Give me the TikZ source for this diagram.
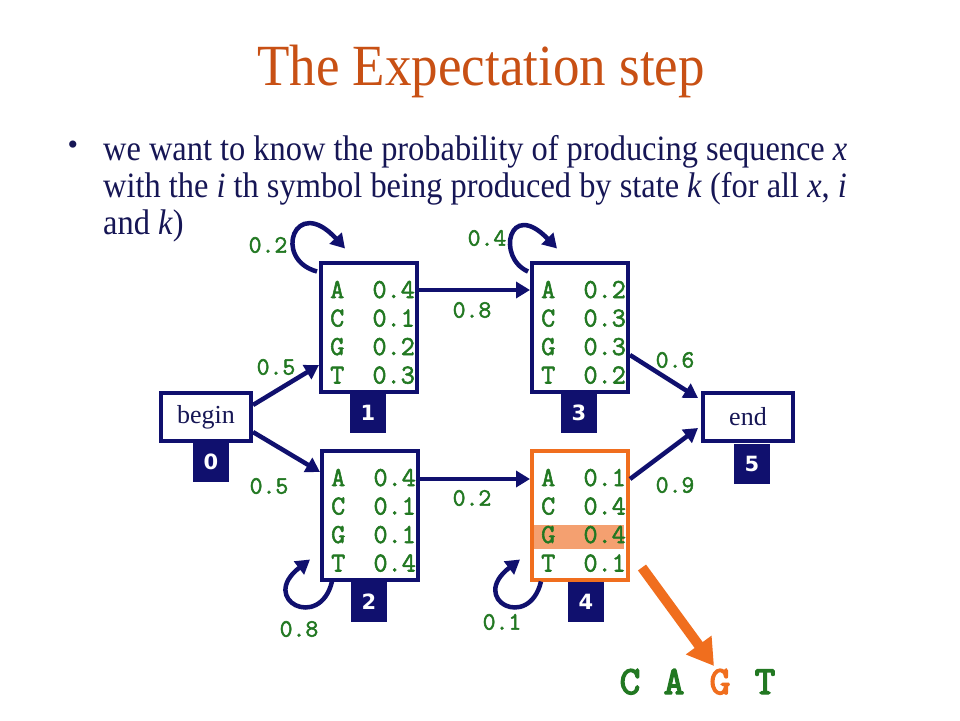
\documentclass[tikz,border=0pt]{standalone}
\usepackage{fontspec}
\usepackage{graphicx}
\setmainfont{Liberation Serif}
\newfontfamily\labf{DejaVu Sans}
\newfontfamily\courf{Latin Modern Mono}[FakeBold=2]
\newfontfamily\courbig{Latin Modern Mono}[FakeBold=3.5]
\usetikzlibrary{arrows.meta,calc}
\definecolor{navy}{RGB}{16,16,110}
\definecolor{txtnavy}{RGB}{22,22,85}
\definecolor{emgreen}{RGB}{34,120,34}
\definecolor{orng}{RGB}{240,110,30}
\definecolor{hilite}{RGB}{244,160,112}
\definecolor{titlec}{RGB}{200,80,20}
\tikzset{
  statebox/.style={draw=navy, line width=4pt, fill=white, minimum width=96pt, minimum height=129pt, inner sep=0pt},
  hotbox/.style={statebox, draw=orng},
  endbox/.style={draw=navy, line width=4pt, fill=white, minimum width=90pt, minimum height=48pt, inner sep=0pt, text=txtnavy, font=\fontsize{26}{30}\selectfont},
  numbox/.style={fill=navy, minimum width=36pt, minimum height=40pt, inner sep=0pt, text=white, font=\labf\bfseries\fontsize{21}{24}\selectfont},
  emit/.style={inner sep=0pt, anchor=base west, text=emgreen, font=\courf\fontsize{27.4}{30}\selectfont},
  prob/.style={inner sep=0pt, text=emgreen, font=\courf\fontsize{25}{28}\selectfont},
  trans/.style={draw=navy, line width=4.5pt, -{Triangle[length=14pt,width=16pt]}},
  bigarrow/.style={draw=orng, line width=10pt, -{Triangle[length=26pt,width=30pt]}},
  seqletter/.style={inner sep=0pt, anchor=base, font=\courbig\fontsize{40}{44}\selectfont},
  bodytext/.style={inner sep=0pt, anchor=base west, text=txtnavy, font=\fontsize{32.4}{36}\selectfont}
}
\begin{document}
\begin{tikzpicture}[x=1pt,y=-1pt]
\path[use as bounding box, fill=white] (0,0) rectangle (960,720);

% title and text
\node[inner sep=0pt, anchor=base, text=titlec, font=\fontsize{53}{60}\selectfont] (title) at (481,85) {\scalebox{1}[1.1]{The Expectation step}};
\node[inner sep=0pt, text=txtnavy, font=\fontsize{30}{32}\selectfont] (bul) at (73,148) {\textbullet};
\node[bodytext] (line1) at (103,160) {\scalebox{1}[1.1]{we want to know the probability of producing sequence \textit{x}}};
\node[bodytext] (line2) at (103,197) {\scalebox{1}[1.1]{with the \textit{i} th symbol being produced by state \textit{k} (for all \textit{x}, \textit{i}}};
\node[bodytext] (line3) at (103,234) {\scalebox{1}[1.1]{and \textit{k})}};

% highlight behind state 4 row G
\fill[hilite] (533,525) rectangle (624,549);

% states
\node[endbox] (b0) at (206,417) {begin};
\node[endbox] (e5) at (748,417) {end};
\node[statebox] (s1) at (369,327) {};
\node[statebox] (s3) at (580,327) {};
\node[statebox] (s2) at (370,515) {};
\node[hotbox, fill=none] (s4) at (580,515) {};

% emission rows
\foreach \n/\t [count=\i] in {A/0.4, C/0.1, G/0.2, T/0.3}
  \node[emit] (s1r\i) at (330, 269.5+28.5*\i) {\n\ \ \t};
\foreach \n/\t [count=\i] in {A/0.2, C/0.3, G/0.3, T/0.2}
  \node[emit] (s3r\i) at (541, 269.5+28.5*\i) {\n\ \ \t};
\foreach \n/\t [count=\i] in {A/0.4, C/0.1, G/0.1, T/0.4}
  \node[emit] (s2r\i) at (331, 457.5+28.5*\i) {\n\ \ \t};
\foreach \n/\t [count=\i] in {A/0.1, C/0.4, G/0.4, T/0.1}
  \node[emit] (s4r\i) at (541, 457.5+28.5*\i) {\n\ \ \t};

% number boxes
\node[numbox] (n0) at (211,462) {0};
\node[numbox] (n1) at (368,413) {1};
\node[numbox] (n3) at (579,413) {3};
\node[numbox] (n2) at (369,602) {2};
\node[numbox] (n4) at (586,602) {4};
\node[numbox] (n5) at (752,464) {5};

% transitions
\draw[trans] ($(b0.east)+(0,-12)$) -- ($(s1.west)+(0,38)$);
\draw[trans] ($(b0.east)+(0,15)$) -- ($(s2.west)+(0,-43)$);
\draw[trans] ($(s1.east)+(0,-37)$) -- ($(s3.west)+(0,-37)$);
\draw[trans] ($(s2.east)+(0,-36)$) -- ($(s4.west)+(0,-36)$);
\draw[trans] ($(s3.east)+(0,28)$) -- ($(e5.west)+(-3,-19)$);
\draw[trans] ($(s4.east)+(0,-36)$) -- ($(e5.west)+(-3,11)$);

% self loops
\draw[trans] ($(s1.north west)+(-2,11)$) .. controls +(-45,-12) and +(-50,-55) .. ($(s1.north)+(-24,-12)$);
\draw[trans] ($(s3.north west)+(-2,11)$) .. controls +(-32,-14) and +(-48,-50) .. ($(s3.north)+(-23,-12)$);
\draw[trans] ($(s2.south west)+(12,0)$) .. controls +(-12,50) and +(-52,40) .. ($(s2.south west)+(-10,-22)$);
\draw[trans] ($(s4.south west)+(11,0)$) .. controls +(-12,50) and +(-52,40) .. ($(s4.south west)+(-10,-22)$);

% probabilities
\node[prob] (p01) at (276,367) {0.5};
\node[prob] (p02) at (269,486) {0.5};
\node[prob] (p13) at (472,310) {0.8};
\node[prob] (p24) at (472,498) {0.2};
\node[prob] (p35) at (675,360) {0.6};
\node[prob] (p45) at (675,485) {0.9};
\node[prob] (p11) at (268,245) {0.2};
\node[prob] (p33) at (487,238) {0.4};
\node[prob] (p22) at (299,629) {0.8};
\node[prob] (p44) at (502,622) {0.1};

% emitted sequence
\node[seqletter, text=emgreen] (xc) at (630,694) {C};
\node[seqletter, text=emgreen] (xa) at (674,694) {A};
\node[seqletter, text=orng] (xg) at (720,694) {G};
\node[seqletter, text=emgreen] (xt) at (765,694) {T};
\coordinate (gtip) at (714,666);
\draw[bigarrow] ($(s4.south east)+(12,-14)$) -- (gtip);
\end{tikzpicture}
\end{document}
